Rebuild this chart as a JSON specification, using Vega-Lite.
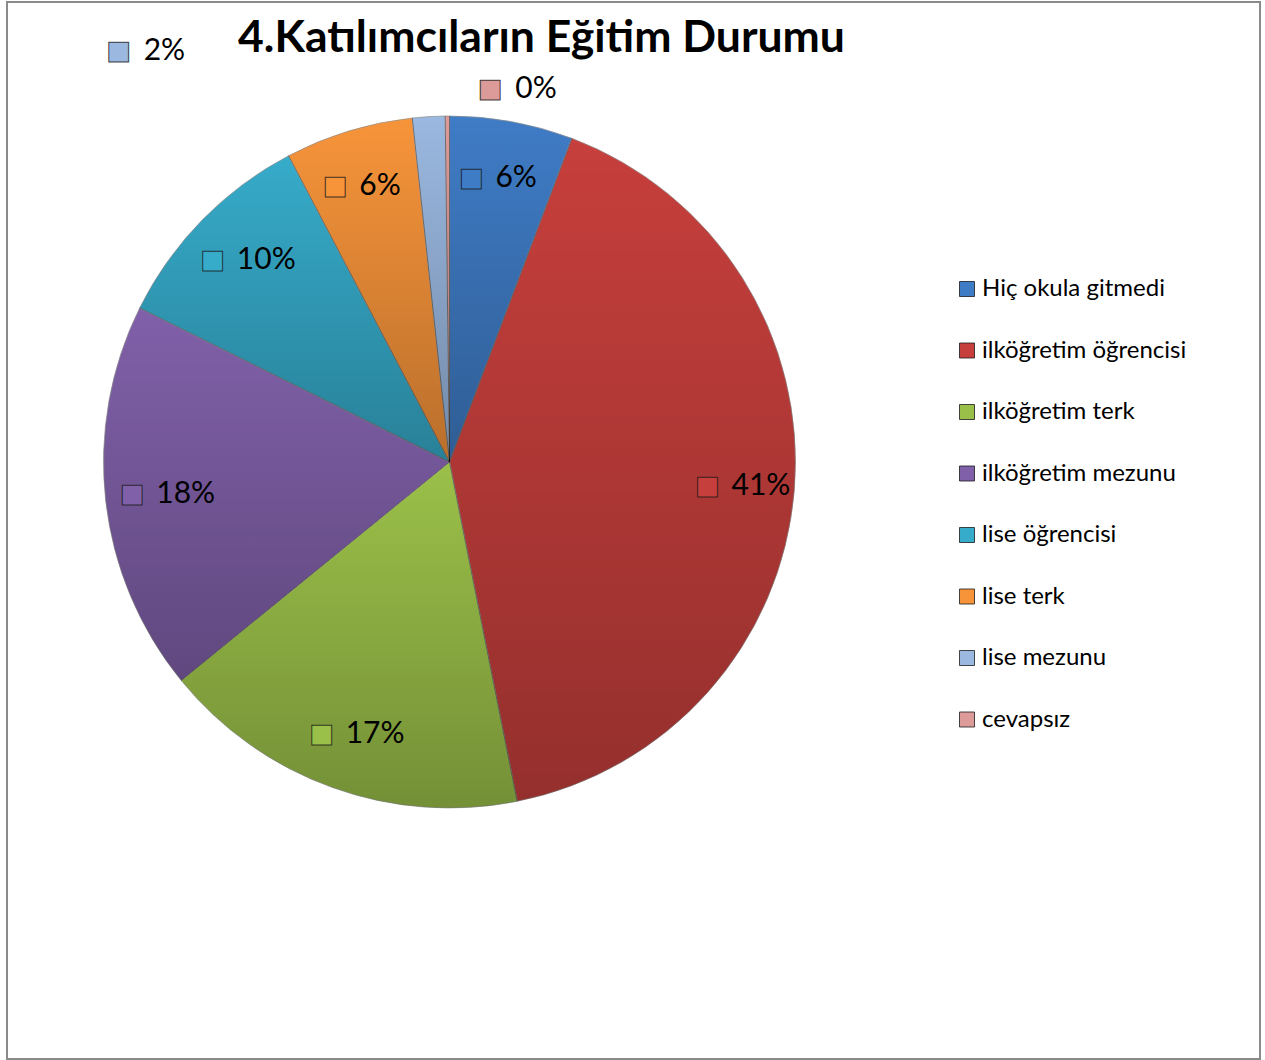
{
  "$schema": "https://vega.github.io/schema/vega-lite/v6.json",
  "width": 1253,
  "height": 1057,
  "autosize": {"type": "none"},
  "padding": {"left": 7, "top": 2, "right": 5, "bottom": 1},
  "background": "white",
  "config": {"font": "Lato"},
  "title": {
    "text": "4.Katılımcıların Eğitim Durumu",
    "font": "Lato", "fontSize": 44.5, "fontWeight": "bold", "color": "#000000",
    "anchor": "middle", "frame": "group", "dx": -92, "offset": -95, "baseline": "alphabetic"
  },
  "data": {
    "values": [
      {"i": 1, "kategori": "Hiç okula gitmedi", "oran": 0.0576},
      {"i": 2, "kategori": "ilköğretim öğrencisi", "oran": 0.4116},
      {"i": 3, "kategori": "ilköğretim terk", "oran": 0.1728},
      {"i": 4, "kategori": "ilköğretim mezunu", "oran": 0.1824},
      {"i": 5, "kategori": "lise öğrencisi", "oran": 0.0997},
      {"i": 6, "kategori": "lise terk", "oran": 0.0599},
      {"i": 7, "kategori": "lise mezunu", "oran": 0.0152},
      {"i": 8, "kategori": "cevapsız", "oran": 0.002}
    ]
  },
  "layer": [
    {
      "data": {"values": [{}]},
      "mark": {"type": "rect", "fill": null, "stroke": "#8a8a8a", "strokeWidth": 2},
      "encoding": {}
    },
    {
      "mark": {"type": "arc", "outerRadius": 346, "x": 442.5, "y": 460, "stroke": "#ffffff", "strokeWidth": 1, "strokeOpacity": 0.5},
      "encoding": {
        "theta": {"field": "oran", "type": "quantitative", "stack": true},
        "order": {"field": "i", "type": "quantitative"},
        "color": {
          "field": "kategori", "type": "nominal",
          "scale": {
            "domain": ["Hiç okula gitmedi", "ilköğretim öğrencisi", "ilköğretim terk", "ilköğretim mezunu", "lise öğrencisi", "lise terk", "lise mezunu", "cevapsız"],
            "range": ["#3F7CC6", "#C63F3C", "#9BC049", "#8060A9", "#36ABCA", "#F7943A", "#9AB8E0", "#DC9A98"]
          },
          "legend": {
            "title": null, "orient": "none", "legendX": 948, "legendY": 275,
            "labelFont": "Lato", "labelFontSize": 24, "labelColor": "#000000", "labelLimit": 400,
            "symbolType": "square", "symbolSize": 225, "symbolStrokeColor": "#333333", "symbolStrokeWidth": 0.8,
            "rowPadding": 37.5, "labelOffset": 3, "padding": 0
          }
        }
      }
    },
    {
      "mark": {
        "type": "arc", "outerRadius": 346, "x": 442.5, "y": 460,
        "fill": {"gradient": "linear", "x1": 0, "y1": 0, "x2": 0, "y2": 1,
          "stops": [{"offset": 0, "color": "rgba(0,0,0,0)"}, {"offset": 1, "color": "rgba(0,0,0,0.25)"}]},
        "stroke": "rgba(0,0,0,0.3)", "strokeWidth": 1
      },
      "encoding": {
        "theta": {"field": "oran", "type": "quantitative", "stack": true},
        "order": {"field": "i", "type": "quantitative"}
      }
    },
    {
      "mark": {"type": "text", "radius": 289, "x": 442.5, "y": 460, "dx": -30, "align": "center", "baseline": "middle",
        "font": "DejaVu Sans", "fontSize": 26, "stroke": "#1a1a1a", "strokeWidth": 1, "strokeOpacity": 0.85},
      "encoding": {
        "theta": {"field": "oran", "type": "quantitative", "stack": true},
        "order": {"field": "i", "type": "quantitative"},
        "text": {"condition": {"test": "datum.oran < 0.05", "value": ""}, "value": "■"},
        "color": {"field": "kategori", "type": "nominal"}
      }
    },
    {
      "mark": {"type": "text", "radius": 289, "x": 442.5, "y": 460, "dx": -6, "align": "left", "baseline": "middle",
        "font": "Lato", "fontSize": 30, "fill": "#000000"},
      "encoding": {
        "theta": {"field": "oran", "type": "quantitative", "stack": true},
        "order": {"field": "i", "type": "quantitative"},
        "text": {"field": "oran", "type": "quantitative", "format": ".0%", "condition": {"test": "datum.oran < 0.05", "value": ""}}
      }
    },
    {
      "mark": {"type": "text", "radius": 346, "x": 442.5, "y": 460, "dx": -310, "dy": -66, "align": "center", "baseline": "middle",
        "font": "DejaVu Sans", "fontSize": 26, "stroke": "#1a1a1a", "strokeWidth": 1, "strokeOpacity": 0.85},
      "encoding": {
        "theta": {"field": "oran", "type": "quantitative", "stack": true},
        "order": {"field": "i", "type": "quantitative"},
        "text": {"condition": {"test": "datum.kategori !== 'lise mezunu'", "value": ""}, "value": "■"},
        "color": {"field": "kategori", "type": "nominal"}
      }
    },
    {
      "mark": {"type": "text", "radius": 346, "x": 442.5, "y": 460, "dx": -285, "dy": -66, "align": "left", "baseline": "middle",
        "font": "Lato", "fontSize": 30, "fill": "#000000"},
      "encoding": {
        "theta": {"field": "oran", "type": "quantitative", "stack": true},
        "order": {"field": "i", "type": "quantitative"},
        "text": {"field": "oran", "type": "quantitative", "format": ".0%", "condition": {"test": "datum.kategori !== 'lise mezunu'", "value": ""}}
      }
    },
    {
      "mark": {"type": "text", "radius": 346, "x": 442.5, "y": 460, "dx": 43, "dy": -27, "align": "center", "baseline": "middle",
        "font": "DejaVu Sans", "fontSize": 26, "stroke": "#1a1a1a", "strokeWidth": 1, "strokeOpacity": 0.85},
      "encoding": {
        "theta": {"field": "oran", "type": "quantitative", "stack": true},
        "order": {"field": "i", "type": "quantitative"},
        "text": {"condition": {"test": "datum.kategori !== 'cevapsız'", "value": ""}, "value": "■"},
        "color": {"field": "kategori", "type": "nominal"}
      }
    },
    {
      "mark": {"type": "text", "radius": 346, "x": 442.5, "y": 460, "dx": 68, "dy": -27, "align": "left", "baseline": "middle",
        "font": "Lato", "fontSize": 30, "fill": "#000000"},
      "encoding": {
        "theta": {"field": "oran", "type": "quantitative", "stack": true},
        "order": {"field": "i", "type": "quantitative"},
        "text": {"field": "oran", "type": "quantitative", "format": ".0%", "condition": {"test": "datum.kategori !== 'cevapsız'", "value": ""}}
      }
    }
  ]
}
